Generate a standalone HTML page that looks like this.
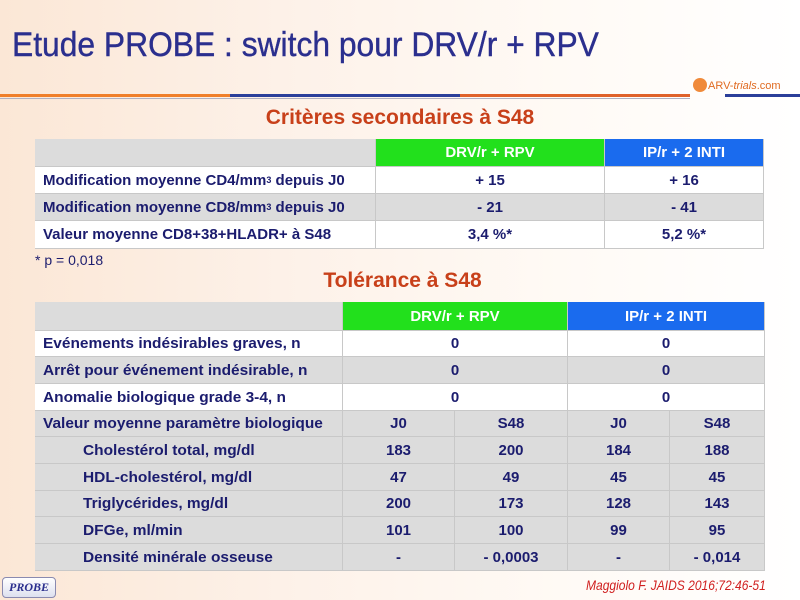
<!DOCTYPE html>
<html><head><meta charset="utf-8"><style>
*{margin:0;padding:0;box-sizing:border-box}
body{width:800px;height:600px;overflow:hidden;position:relative;font-family:"Liberation Sans",Arial,sans-serif;
background:linear-gradient(90deg,#fbe7d6 0%,#fdf1e8 35%,#fffaf5 70%,#fff 100%);}
.a{position:absolute}
.c{position:absolute;display:flex;align-items:center;color:#1b1c6e;font-weight:bold;font-size:15px;border-right:1px solid #c8c8c8;border-bottom:1px solid #c8c8c8;white-space:nowrap}
.ctr{justify-content:center}
.n{font-size:15px}
.n span{display:inline-block;transform:scaleX(1.03);transform-origin:left}
.g{background:#dcdcdc}.w{background:#fff}
.hg{background:#22e01c;color:#fff}.hb{background:#1a6bee;color:#fff}
</style></head><body>
<div class="a" style="left:12px;top:26px;font-size:34px;color:#2b2f8e;white-space:nowrap;transform:scaleX(0.935);transform-origin:left;-webkit-text-stroke:0.4px #2b2f8e">Etude PROBE : switch pour DRV/r + RPV</div>
<div class="a" style="left:0;top:94px;width:230px;height:3px;background:#f07f2a"></div>
<div class="a" style="left:230px;top:94px;width:230px;height:3px;background:#2b3f9a"></div>
<div class="a" style="left:460px;top:94px;width:230px;height:3px;background:#e0622a"></div>
<div class="a" style="left:725px;top:94px;width:75px;height:3px;background:#2b3f9a"></div>
<div class="a" style="left:0;top:98px;width:690px;height:1px;background:#b0b0c0"></div>
<div class="a" style="left:693px;top:78px;width:14px;height:14px;border-radius:50%;background:#f08a3a"></div>
<div class="a" style="left:708px;top:80px;font-size:11px;color:#e06a20;white-space:nowrap">ARV-<i>trials</i>.com</div>
<div class="a" style="left:0;width:800px;top:106px;text-align:center;font-size:21px;font-weight:bold;color:#c8401a">Critères secondaires à S48</div>

<div class="c g" style="left:35px;top:139px;width:341px;height:28px"></div>
<div class="c hg ctr" style="left:376px;top:139px;width:229px;height:28px">DRV/r + RPV</div>
<div class="c hb ctr" style="left:605px;top:139px;width:159px;height:28px">IP/r + 2 INTI</div>
<div class="c w" style="left:35px;top:167px;width:341px;height:27px;padding-left:8px">Modification moyenne CD4/mm<sup style="font-size:9px">3</sup>&nbsp;depuis J0</div>
<div class="c w ctr" style="left:376px;top:167px;width:229px;height:27px">+ 15</div>
<div class="c w ctr" style="left:605px;top:167px;width:159px;height:27px">+ 16</div>
<div class="c g" style="left:35px;top:194px;width:341px;height:27px;padding-left:8px">Modification moyenne CD8/mm<sup style="font-size:9px">3</sup>&nbsp;depuis J0</div>
<div class="c g ctr" style="left:376px;top:194px;width:229px;height:27px">- 21</div>
<div class="c g ctr" style="left:605px;top:194px;width:159px;height:27px">- 41</div>
<div class="c w" style="left:35px;top:221px;width:341px;height:28px;padding-left:8px">Valeur moyenne CD8+38+HLADR+ à S48</div>
<div class="c w ctr" style="left:376px;top:221px;width:229px;height:28px">3,4 %*</div>
<div class="c w ctr" style="left:605px;top:221px;width:159px;height:28px">5,2 %*</div>
<div class="a" style="left:35px;top:252px;font-size:14px;color:#1b1c6e">* p = 0,018</div>
<div class="a" style="left:0;width:800px;top:269px;text-align:center;font-size:21px;font-weight:bold;color:#c8401a;padding-left:5px">Tolérance à S48</div>

<div class="c g" style="left:35px;top:302px;width:308px;height:29px"></div>
<div class="c hg ctr n" style="left:343px;top:302px;width:225px;height:29px">DRV/r + RPV</div>
<div class="c hb ctr n" style="left:568px;top:302px;width:197px;height:29px">IP/r + 2 INTI</div>

<div class="c w n" style="left:35px;top:331px;width:308px;height:26px;padding-left:8px"><span>Evénements indésirables graves, n</span></div>
<div class="c w n ctr" style="left:343px;top:331px;width:225px;height:26px">0</div>
<div class="c w n ctr" style="left:568px;top:331px;width:197px;height:26px">0</div>
<div class="c g n" style="left:35px;top:357px;width:308px;height:27px;padding-left:8px"><span>Arrêt pour événement indésirable, n</span></div>
<div class="c g n ctr" style="left:343px;top:357px;width:225px;height:27px">0</div>
<div class="c g n ctr" style="left:568px;top:357px;width:197px;height:27px">0</div>
<div class="c w n" style="left:35px;top:384px;width:308px;height:27px;padding-left:8px"><span>Anomalie biologique grade 3-4, n</span></div>
<div class="c w n ctr" style="left:343px;top:384px;width:225px;height:27px">0</div>
<div class="c w n ctr" style="left:568px;top:384px;width:197px;height:27px">0</div>

<div class="c g n" style="left:35px;top:411px;width:308px;height:26px;padding-left:8px"><span>Valeur moyenne paramètre biologique</span></div>
<div class="c g n ctr" style="left:343px;top:411px;width:112px;height:26px">J0</div>
<div class="c g n ctr" style="left:455px;top:411px;width:113px;height:26px">S48</div>
<div class="c g n ctr" style="left:568px;top:411px;width:102px;height:26px">J0</div>
<div class="c g n ctr" style="left:670px;top:411px;width:95px;height:26px">S48</div>

<div class="c g n" style="left:35px;top:437px;width:308px;height:27px;padding-left:48px"><span>Cholestérol total, mg/dl</span></div>
<div class="c g n ctr" style="left:343px;top:437px;width:112px;height:27px">183</div>
<div class="c g n ctr" style="left:455px;top:437px;width:113px;height:27px">200</div>
<div class="c g n ctr" style="left:568px;top:437px;width:102px;height:27px">184</div>
<div class="c g n ctr" style="left:670px;top:437px;width:95px;height:27px">188</div>

<div class="c g n" style="left:35px;top:464px;width:308px;height:27px;padding-left:48px"><span>HDL-cholestérol, mg/dl</span></div>
<div class="c g n ctr" style="left:343px;top:464px;width:112px;height:27px">47</div>
<div class="c g n ctr" style="left:455px;top:464px;width:113px;height:27px">49</div>
<div class="c g n ctr" style="left:568px;top:464px;width:102px;height:27px">45</div>
<div class="c g n ctr" style="left:670px;top:464px;width:95px;height:27px">45</div>

<div class="c g n" style="left:35px;top:491px;width:308px;height:26px;padding-left:48px"><span>Triglycérides, mg/dl</span></div>
<div class="c g n ctr" style="left:343px;top:491px;width:112px;height:26px">200</div>
<div class="c g n ctr" style="left:455px;top:491px;width:113px;height:26px">173</div>
<div class="c g n ctr" style="left:568px;top:491px;width:102px;height:26px">128</div>
<div class="c g n ctr" style="left:670px;top:491px;width:95px;height:26px">143</div>

<div class="c g n" style="left:35px;top:517px;width:308px;height:27px;padding-left:48px"><span>DFGe, ml/min</span></div>
<div class="c g n ctr" style="left:343px;top:517px;width:112px;height:27px">101</div>
<div class="c g n ctr" style="left:455px;top:517px;width:113px;height:27px">100</div>
<div class="c g n ctr" style="left:568px;top:517px;width:102px;height:27px">99</div>
<div class="c g n ctr" style="left:670px;top:517px;width:95px;height:27px">95</div>

<div class="c g n" style="left:35px;top:544px;width:308px;height:27px;padding-left:48px"><span>Densité minérale osseuse</span></div>
<div class="c g n ctr" style="left:343px;top:544px;width:112px;height:27px">-</div>
<div class="c g n ctr" style="left:455px;top:544px;width:113px;height:27px">- 0,0003</div>
<div class="c g n ctr" style="left:568px;top:544px;width:102px;height:27px">-</div>
<div class="c g n ctr" style="left:670px;top:544px;width:95px;height:27px">- 0,014</div>

<div class="a" style="left:2px;top:577px;width:54px;height:21px;border:1px solid #8a8ab0;border-radius:4px;background:linear-gradient(#fff,#dde0ef);font-family:'Liberation Serif',serif;font-style:italic;font-weight:bold;font-size:12px;color:#2b2f8e;text-align:center;line-height:19px">PROBE</div>
<div class="a" style="left:586px;top:577px;font-size:14px;font-style:italic;color:#d02020;white-space:nowrap;transform:scaleX(0.86);transform-origin:left">Maggiolo F. JAIDS 2016;72:46-51</div>
</body></html>
